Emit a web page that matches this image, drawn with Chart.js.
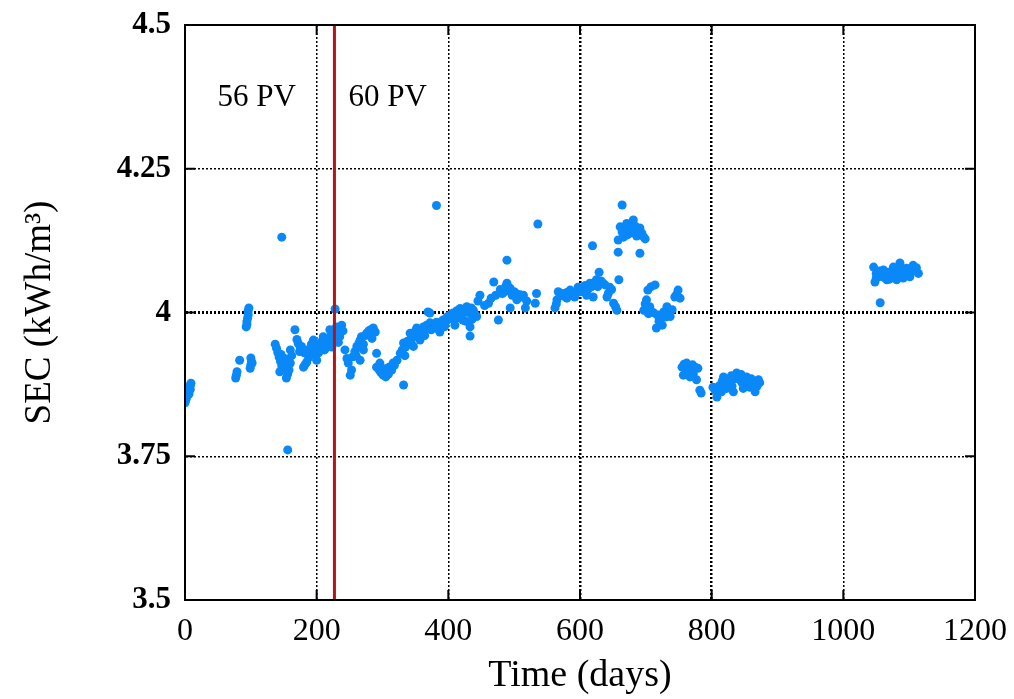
<!DOCTYPE html>
<html lang="en">
<head>
  <meta charset="UTF-8">
  <title>SEC over time</title>
  <script src="https://cdn.jsdelivr.net/npm/chart.js"></script>
  <style>
    body {
      margin: 0;
      background: #fff;
    }
    #chart {
      display: block;
    }
  </style>
</head>
<body>

<canvas id="chart" width="1014" height="699"></canvas>

<script>
// measurements with 56 pressure vessels (before the switch)
const pv56Days = [
  0, 1, 2, 3, 4, 5, 6, 7, 8, 9, 6, 8,
  77, 78, 79, 83,
  93, 94, 94, 95, 96, 96, 97,
  99, 100, 101, 100, 102,
  147, 156,
  137, 139, 141, 143, 145, 144, 147, 149, 152, 154, 156, 158, 160, 160, 162, 146, 151,
  167,
  170, 172, 175, 177, 180, 182, 185, 188, 190, 193, 195, 198, 200, 203, 205, 208, 210, 213, 215, 181, 186, 197, 207, 212, 174, 192,
  217, 220, 222, 225, 228, 230, 232, 235, 238, 240, 223, 233, 226,
  228
];
const pv56Sec = [
  3.843, 3.847, 3.851, 3.855, 3.858, 3.862, 3.866, 3.870, 3.873, 3.877, 3.858, 3.866,
  3.886, 3.891, 3.897, 3.917,
  3.975, 3.979, 3.984, 3.990, 3.996, 4.003, 4.008,
  3.903, 3.909, 3.915, 3.921, 3.912,
  4.131, 3.761,
  3.945, 3.938, 3.930, 3.922, 3.915, 3.897, 3.907, 3.917, 3.905, 3.886, 3.893, 3.900, 3.912, 3.935, 3.925, 3.927, 3.920,
  3.970,
  3.953, 3.946, 3.940, 3.941, 3.905, 3.909, 3.914, 3.922, 3.929, 3.938, 3.952, 3.944, 3.917, 3.930, 3.935, 3.950, 3.958, 3.948, 3.943, 3.930, 3.935, 3.926, 3.941, 3.935, 3.932, 3.945,
  3.952, 3.970, 3.960, 3.947, 3.966, 3.975, 3.962, 3.958, 3.978, 3.968, 3.940, 3.948, 3.955,
  4.006
];

// measurements with 60 pressure vessels
const pv60Days = [
  243, 246, 248, 251, 253, 255, 258, 261, 264, 266, 268, 271, 274, 276, 279, 282, 286, 289, 266, 260, 271, 284,
  291, 291, 295, 298, 301, 305, 309, 314, 318, 322, 296, 310, 304, 316,
  327, 330, 332, 335, 338, 342, 345, 347, 350, 352, 355, 357, 334, 344,
  332,
  360, 362, 365, 367, 369, 372, 375, 377, 380, 382, 385, 387, 390, 392, 395, 398, 400, 402, 364, 374, 384, 394, 372, 396,
  382,
  405, 407, 410, 413, 415, 418, 420, 422, 425, 428, 430, 433, 435, 438, 440, 443, 445, 448, 412, 426, 436, 433,
  455, 461, 465, 469, 472, 476, 479, 482, 484, 487, 489, 491, 494, 497, 500, 503, 506, 509, 512, 514, 517, 519, 494, 504, 489,
  532, 534, 536, 562, 565, 567, 564,
  572, 576, 580, 585, 588, 592, 597, 600, 603, 605, 608, 612, 615, 618, 620, 622, 625, 629, 632, 635, 638, 641, 645, 648, 651, 654, 656, 659, 580, 595, 610, 627, 643,
  619,
  658, 661, 664, 666, 669, 671, 674, 676, 679, 681, 684, 687, 689, 691, 694, 697, 699, 664, 672, 683, 692, 686, 658, 691,
  697, 699, 701, 703, 706, 708, 711, 714, 717, 720, 723, 727, 730, 734, 737, 740, 744, 747, 749, 752, 716, 725, 704, 732,
  755, 758, 762, 765, 768, 771, 775, 779, 757, 762, 767, 772, 777, 782, 784,
  802, 805, 808, 811, 813, 816, 818, 821, 823, 826, 828, 831, 833, 836, 838, 841, 843, 846, 848, 851, 853, 856, 858, 861, 864, 866, 869, 871, 873, 815, 830, 845, 860,
  1046, 1048, 1050, 1053, 1055, 1058, 1061, 1064, 1066, 1069, 1071, 1074, 1076, 1079, 1081, 1084, 1086, 1089, 1091, 1094, 1096, 1099, 1101, 1104, 1106, 1109, 1111, 1114, 1050, 1060, 1070, 1080, 1090, 1100, 1110, 1056
];
const pv60Sec = [
  3.935, 3.920, 3.912, 3.891, 3.900, 3.923, 3.932, 3.941, 3.946, 3.952, 3.958, 3.935, 3.960, 3.964, 3.968, 3.970, 3.973, 3.966, 3.917, 3.925, 3.945, 3.955,
  3.929, 3.905, 3.900, 3.895, 3.891, 3.888, 3.893, 3.900, 3.908, 3.917, 3.912, 3.905, 3.902, 3.912,
  3.929, 3.935, 3.947, 3.940, 3.950, 3.964, 3.955, 3.941, 3.968, 3.973, 3.960, 3.952, 3.925, 3.945,
  3.874,
  3.965, 3.975, 3.970, 3.978, 4.001, 3.982, 3.980, 3.973, 3.976, 3.983, 3.979, 3.966, 3.984, 3.987, 3.980, 3.992, 3.988, 3.995, 3.960, 3.970, 3.972, 3.975, 3.999, 3.985,
  4.186,
  3.990, 3.999, 3.978, 4.003, 3.995, 4.007, 3.996, 3.987, 4.005, 4.010, 4.000, 3.959, 4.008, 4.004, 3.998, 3.993, 4.020, 4.030, 3.990, 3.985, 3.988, 3.975,
  4.012, 4.016, 4.025, 4.053, 4.030, 3.987, 4.040, 4.033, 4.035, 4.045, 4.051, 4.038, 4.042, 4.030, 4.036, 4.033, 4.028, 4.031, 4.027, 4.030, 4.008, 4.020, 4.008, 4.022, 4.091,
  4.016, 4.033, 4.154, 4.008, 4.022, 4.036, 4.015,
  4.033, 4.028, 4.035, 4.039, 4.030, 4.027, 4.044, 4.036, 4.040, 4.044, 4.047, 4.040, 4.051, 4.045, 4.027, 4.052, 4.057, 4.070, 4.055, 4.051, 4.048, 4.027, 4.044, 4.040, 4.016, 4.010, 4.004, 4.057, 4.025, 4.035, 4.030, 4.045, 4.033,
  4.116,
  4.126, 4.149, 4.187, 4.131, 4.145, 4.155, 4.142, 4.138, 4.152, 4.161, 4.150, 4.140, 4.145, 4.147, 4.138, 4.131, 4.128, 4.140, 4.135, 4.145, 4.140, 4.133, 4.105, 4.103,
  4.004, 4.015, 4.022, 4.039, 4.010, 4.045, 4.000, 4.048, 3.996, 3.985, 3.990, 4.001, 3.992, 4.000, 3.993, 4.005, 4.027, 4.032, 4.039, 4.025, 3.973, 3.978, 3.998, 4.010,
  3.905, 3.910, 3.912, 3.906, 3.903, 3.909, 3.905, 3.903, 3.891, 3.895, 3.888, 3.893, 3.883, 3.865, 3.860,
  3.870, 3.865, 3.853, 3.872, 3.870, 3.880, 3.888, 3.875, 3.868, 3.880, 3.877, 3.872, 3.862, 3.885, 3.895, 3.888, 3.883, 3.878, 3.868, 3.875, 3.888, 3.880, 3.870, 3.876, 3.880, 3.862, 3.872, 3.883, 3.878, 3.862, 3.890, 3.892, 3.885,
  4.079, 4.053, 4.068, 4.062, 4.072, 4.066, 4.074, 4.060, 4.057, 4.070, 4.065, 4.072, 4.079, 4.068, 4.057, 4.074, 4.086, 4.070, 4.060, 4.074, 4.077, 4.068, 4.062, 4.075, 4.082, 4.072, 4.078, 4.068, 4.060, 4.062, 4.058, 4.065, 4.068, 4.070, 4.074, 4.017
];

const switchDay = 227;            // 56 PV -> 60 PV
const phaseLabels = ['56 PV', '60 PV'];
const phaseLabelDays = [109, 308];
const xTicks = [0, 200, 400, 600, 800, 1000, 1200];
const yTicks = [3.5, 3.75, 4, 4.25, 4.5];

const serif = "'Liberation Serif', 'DejaVu Serif', serif";

const points = [];
pv56Days.forEach((d, i) => points.push({ x: d, y: pv56Sec[i] }));
pv60Days.forEach((d, i) => points.push({ x: d, y: pv60Sec[i] }));

// full frame around the plot plus small inward tick marks
const framePlugin = {
  id: 'frame',
  afterDraw(chart) {
    const { ctx, chartArea: a, scales } = chart;
    ctx.save();
    ctx.strokeStyle = '#000';
    ctx.lineWidth = 2;
    ctx.strokeRect(a.left, a.top, a.right - a.left, a.bottom - a.top);
    ctx.beginPath();
    yTicks.forEach(v => {
      const y = scales.y.getPixelForValue(v);
      ctx.moveTo(a.left, y); ctx.lineTo(a.left + 10, y);
      ctx.moveTo(a.right, y); ctx.lineTo(a.right - 10, y);
    });
    xTicks.forEach(v => {
      const x = scales.x.getPixelForValue(v);
      ctx.moveTo(x, a.bottom); ctx.lineTo(x, a.bottom - 10);
      ctx.moveTo(x, a.top); ctx.lineTo(x, a.top + 10);
    });
    ctx.stroke();
    ctx.restore();
  },
  afterDatasetsDraw(chart) {
    const { ctx, scales } = chart;
    ctx.save();
    ctx.fillStyle = '#000';
    ctx.font = '31px ' + serif;
    ctx.textAlign = 'center';
    ctx.textBaseline = 'middle';
    phaseLabels.forEach((t, i) => {
      ctx.fillText(t, scales.x.getPixelForValue(phaseLabelDays[i]), scales.y.getPixelForValue(4.373));
    });
    ctx.restore();
  }
};

new Chart(document.getElementById('chart'), {
  type: 'scatter',
  data: {
    datasets: [
      {
        label: 'SEC',
        data: points,
        backgroundColor: '#0a88f7',
        borderWidth: 0,
        pointRadius: 4.5,
        order: 2
      },
      {
        type: 'line',
        label: 'switch',
        data: [{ x: switchDay, y: 3.5 }, { x: switchDay, y: 4.5 }],
        borderColor: '#b3151c',
        borderWidth: 3,
        pointRadius: 0,
        order: 1
      }
    ]
  },
  options: {
    responsive: false,
    animation: false,
    layout: { padding: { left: 0, top: 25, right: 39, bottom: 0 } },
    plugins: {
      legend: { display: false },
      tooltip: { enabled: false }
    },
    scales: {
      x: {
        type: 'linear',
        min: 0,
        max: 1200,
        afterFit: s => { s.height = 99; s.paddingRight = 0; s.paddingLeft = 0; },
        afterBuildTicks: s => { s.ticks = xTicks.map(v => ({ value: v })); },
        ticks: {
          color: '#000',
          padding: 12,
          font: { family: serif, size: 32 },
          callback: v => String(v)
        },
        grid: {
          color: '#000',
          lineWidth: c => (c.tick && (c.tick.value === 600 || c.tick.value === 800)) ? 2.5 : 1.5,
          drawTicks: false
        },
        border: { color: '#000', width: 2, dash: [2, 2] },
        title: {
          display: true,
          text: 'Time (days)',
          color: '#000',
          padding: { top: 0, bottom: 0 },
          font: { family: serif, size: 38 }
        }
      },
      y: {
        min: 3.5,
        max: 4.5,
        afterFit: s => { s.width = 185; s.paddingTop = 0; s.paddingBottom = 0; },
        afterBuildTicks: s => { s.ticks = yTicks.map(v => ({ value: v })); },
        ticks: {
          color: '#000',
          padding: 14,
          font: { family: serif, size: 31, weight: 'bold' },
          callback: v => String(v)
        },
        grid: {
          color: '#000',
          lineWidth: c => (c.tick && c.tick.value === 4) ? 3 : 1.5,
          drawTicks: false
        },
        border: { color: '#000', width: 2, dash: [2, 2] },
        title: {
          display: true,
          text: 'SEC (kWh/m³)',
          color: '#000',
          padding: { top: 18, bottom: 0 },
          font: { family: serif, size: 37 }
        }
      }
    }
  },
  plugins: [framePlugin]
});
</script>

</body>
</html>
